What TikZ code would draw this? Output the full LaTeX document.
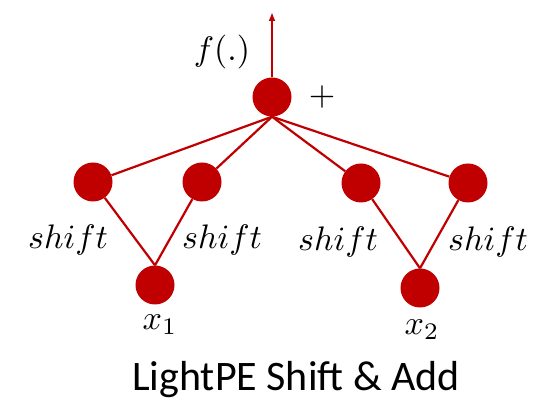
\documentclass[tikz,border=0pt]{standalone}
\usepackage{amsmath,amssymb}
\usepackage{fontspec}
\setsansfont{Carlito}
\usepackage{xcolor}
\usepackage{tikz}
\usetikzlibrary{arrows.meta,positioning}
\definecolor{dred}{HTML}{C00000}

\begin{document}
\begin{tikzpicture}[x=1pt,y=1pt,>={Latex[length=9pt,width=7pt]},
  dot/.style={circle,fill=dred,inner sep=0pt,minimum size=39pt},
  wire/.style={draw=dred,line width=2.2pt},
  lbl/.style={scale=3.4}]
  \useasboundingbox (0,0) rectangle (556,401);
  \node[dot] (sum) at (272,304) {};
  \node[dot] (m1) at (93,219) {};
  \node[dot] (m2) at (202,219) {};
  \node[dot] (m3) at (361,218) {};
  \node[dot] (m4) at (468,218) {};
  \node[dot] (b1) at (155,116) {};
  \node[dot] (b2) at (420,113) {};
  \coordinate (out) at (272,389);
  \draw[wire,->] (sum.north) -- (out);
  \node[lbl] (f) at (222,349) {$f(.)$};
  \node[lbl] (plus) at (322,304) {$+$};
  \draw[wire] (sum.south) -- (m1);
  \draw[wire] (sum.south) -- (m2);
  \draw[wire] (sum.south) -- (m3);
  \draw[wire] (sum.south) -- (m4);
  \draw[wire] (m1) -- (b1.north);
  \draw[wire] (m2) -- (b1.north);
  \draw[wire] (m3) -- (b2.north);
  \draw[wire] (m4) -- (b2.north);
  \node[lbl] (s1) at (68,161) {$shift$};
  \node[lbl] (s2) at (222,161) {$shift$};
  \node[lbl] (s3) at (338,159) {$shift$};
  \node[lbl] (s4) at (488,159) {$shift$};
  \node[lbl] (x1) at (160,76) {$x_1$};
  \node[lbl] (x2) at (422,71) {$x_2$};
  \node[font=\sffamily\fontsize{42}{48}\selectfont] (cap) at (296,21) {LightPE Shift \& Add};
\end{tikzpicture}
\end{document}
